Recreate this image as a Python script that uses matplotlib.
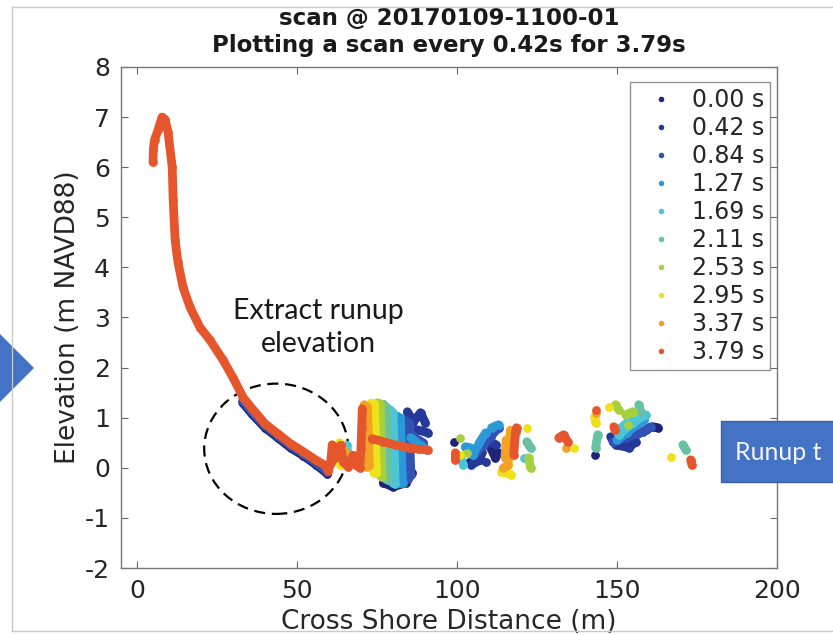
import numpy as np
import matplotlib.pyplot as plt
from matplotlib.lines import Line2D
from matplotlib.patches import Ellipse, Polygon, Rectangle

plt.rcParams["font.family"] = ["DejaVu Sans"]
plt.rcParams["axes.unicode_minus"] = False

nan = np.nan

labels = ["0.00 s", "0.42 s", "0.84 s", "1.27 s", "1.69 s",
          "2.11 s", "2.53 s", "2.95 s", "3.37 s", "3.79 s"]
colors = ["#1f237a", "#25399a", "#3352b6", "#2b98d8", "#4cc6d6",
          "#66c2a2", "#a7d03e", "#eee31a", "#f4a226", "#e6562c"]

# wet beach under the last scan (earlier scans sit a bit lower)
low_beach_x = [33.0, 36.0, 40.0, 44.0, 48.0, 52.0, 56.0, 59.5]
low_beach_z = [1.30, 1.07, 0.80, 0.60, 0.40, 0.24, 0.06, -0.12]

# scan points, nan breaks a scan into separate pieces
x0 = [77.0, 80.0, 84.0, 86.0, nan, 99.0, nan, 103.6, nan, 110.5, 112.0, 113.0, nan,
      143.0, nan, 159.5, 161.2, 162.8]
z0 = [-0.30, -0.38, -0.30, -0.10, nan, 0.52, nan, 0.12, nan, 0.40, 0.20, 0.30, nan,
      0.26, nan, 0.78, 0.82, 0.80]

x1 = [84.5, 86.4, 88.6, 90.1, nan, 87.6, 90.8, nan, 104.5, 107.4, 107.7, nan, 109.2, nan,
      110.2, 112.2, nan, 148.0, 149.6, 153.7, 155.9, nan, 151.0, 155.0, 159.0]
z1 = [1.12, 0.92, 1.10, 0.90, nan, 0.76, 0.70, nan, 0.06, 0.16, 0.32, nan, 0.12, nan,
      0.52, 0.46, nan, 0.62, 0.46, 0.40, 0.52, nan, 0.50, 0.62, 0.75]

x2 = [83.5, 84.0, 84.6, 85.6, 85.3, 85.0, nan, 86.0, 88.0, 89.5, nan,
      106.0, 108.3, 110.5, 113.0, nan,
      148.7, 152.7, 158.0, 160.6, nan, 150.0, 153.0, 156.5]
z2 = [0.95, 0.40, -0.22, -0.15, 0.45, 0.90, nan, 0.65, 0.55, 0.50, nan,
      0.30, 0.46, 0.62, 0.80, nan,
      0.52, 0.60, 0.72, 0.82, nan, 0.70, 0.76, 0.90]

x3 = [81.3, 81.7, 82.2, 83.0, 82.6, 82.3, nan, 85.5, 88.6, 90.5, nan,
      102.6, 104.2, nan, 105.0, 107.0, 109.0, nan, 110.8, 113.0, nan,
      150.0, 153.0, 156.0, 158.5]
z3 = [1.03, 0.40, -0.30, -0.30, 0.40, 1.00, nan, 0.60, 0.45, 0.35, nan,
      0.42, 0.40, nan, 0.25, 0.50, 0.70, nan, 0.80, 0.86, nan,
      0.55, 0.70, 0.85, 0.95]

x4 = [65.6, 66.0, nan, 79.1, 79.4, 79.9, 80.7, 80.3, 80.0, nan, 101.4, 102.0, nan,
      120.8, nan, 150.5, 155.0, 159.0, nan, 151.0, 154.0]
z4 = [0.45, 0.20, nan, 1.16, 0.50, -0.30, -0.32, 0.50, 1.10, nan, 0.16, 0.06, nan,
      0.20, nan, 0.66, 0.90, 1.06, nan, 0.78, 0.95]

x5 = [77.0, 77.3, 77.8, 78.5, 78.2, 77.9, nan, 121.8, 123.0, nan, 144.0, 143.3, nan,
      156.8, 157.4, nan, 170.6, 171.5]
z5 = [1.27, 0.60, -0.22, -0.25, 0.60, 1.22, nan, 0.52, 0.40, nan, 0.66, 0.40, nan,
      1.26, 1.12, nan, 0.46, 0.36]

x6 = [75.2, 75.5, 75.9, 76.6, 76.3, 76.0, nan, 103.0, nan, 101.0, nan, 122.4, 123.0, nan,
      149.6, 150.5, nan, 152.7, 154.9, nan, 153.4]
z6 = [1.30, 0.60, -0.15, -0.18, 0.60, 1.28, nan, 0.30, nan, 0.60, nan, 0.20, 0.00, nan,
      1.26, 1.16, nan, 1.06, 1.12, nan, 0.86]

x7 = [63.3, 63.6, nan, 73.2, 73.6, 74.0, 74.8, 74.5, 74.2, nan, 101.0, nan,
      113.9, 117.0, nan, 121.8, nan, 136.5, nan, 143.0, 143.3, nan, 147.4, nan, 166.8]
z7 = [0.50, 0.05, nan, 1.29, 0.60, -0.10, -0.10, 0.60, 1.28, nan, 0.26, nan,
      -0.08, -0.14, nan, 0.80, nan, 0.40, nan, 1.02, 0.90, nan, 1.22, nan, 0.22]

x8 = [64.8, 65.5, 66.5, nan, 71.0, 71.4, 71.8, 72.6, 72.3, 72.0, nan,
      116.7, 116.2, 116.0, 114.5, nan, 115.0, 115.3, nan, 134.0, nan, 143.3]
z8 = [0.35, 0.10, 0.25, nan, 1.26, 0.60, 0.02, 0.05, 0.70, 1.22, nan,
      0.75, 0.40, 0.05, 0.00, nan, 0.20, 0.55, nan, 0.40, nan, 1.10]

x9 = [5.0, 5.1, 5.5, 6.6, 7.8, 8.8, 9.7, 11.0, 11.3, 11.9, 12.8, 14.4, 16.6, 19.7, 22.8,
      26.9, 30.0, 33.2, 36.0, 40.0, 44.0, 48.0, 52.0, 56.0, 58.5, 59.8, 60.5, 61.0, 61.8,
      62.8, 63.6, 64.5, 66.0, 67.5, 68.5, 69.6, 70.0, 70.2, 70.4, nan,
      73.5, 77.0, 81.0, 85.0, 88.0, 90.8, nan, 99.5, 99.5, nan, 118.6, 118.3, 117.7, nan,
      131.8, 133.3, 134.6, nan, 143.3, nan, 149.0, 149.3, nan, 173.0, 173.4]
z9 = [6.10, 6.35, 6.55, 6.75, 7.00, 6.95, 6.70, 6.00, 5.35, 4.55, 4.10, 3.60, 3.20, 2.80, 2.55,
      2.15, 1.80, 1.40, 1.18, 0.88, 0.68, 0.48, 0.32, 0.15, 0.06, -0.06, 0.10, 0.46, 0.20,
      0.40, 0.45, 0.12, 0.02, 0.25, 0.05, 0.00, 0.40, 0.80, 1.18, nan,
      0.58, 0.52, 0.45, 0.40, 0.37, 0.36, nan, 0.30, 0.16, nan, 0.80, 0.72, 0.26, nan,
      0.60, 0.66, 0.52, nan, 1.16, nan, 0.82, 0.76, nan, 0.16, 0.06]

scan_x = [x0, x1, x2, x3, x4, x5, x6, x7, x8, x9]
scan_z = [z0, z1, z2, z3, z4, z5, z6, z7, z8, z9]

W, H = 833, 635
fig = plt.figure(figsize=(W / 100, H / 100), dpi=100)
fig.patch.set_facecolor("white")


def fx(px):
    return px / W


def fy(py):
    return 1 - py / H


ax = fig.add_axes([fx(121), fy(568), fx(777) - fx(121), fy(67) - fy(568)])

dot = dict(lw=6.3, marker="o", ms=6.3, mew=0, solid_capstyle="round",
           solid_joinstyle="round")
ax.plot(low_beach_x, low_beach_z, color=colors[0], **dot)
ax.plot(low_beach_x, [z + 0.04 for z in low_beach_z], color=colors[2], **dot)
for xs, zs, c in zip(scan_x, scan_z, colors):
    ax.plot(xs, zs, color=c, **dot)

ax.set_xlim(-5, 200)
ax.set_ylim(-2, 8)
ax.set_xticks([0, 50, 100, 150, 200])
ax.set_yticks(range(-2, 9))
ax.tick_params(direction="in", length=5, width=0.8, top=True, right=True,
               labelsize=18, pad=8, color="#666666", labelcolor="#262626")
for s in ax.spines.values():
    s.set_color("#777777")
    s.set_linewidth(1.0)

ax.set_xlabel("Cross Shore Distance (m)", fontsize=19, color="#262626", labelpad=4)
ax.set_ylabel("Elevation (m NAVD88)", fontsize=19, color="#262626", labelpad=3)
ax.set_title("scan @ 20170109-1100-01\nPlotting a scan every 0.42s for 3.79s",
             fontsize=16.5, fontweight="bold", color="#1a1a1a", pad=11, linespacing=1.22)

handles = [Line2D([], [], ls="none", marker="o", ms=4, mew=0, color=c) for c in colors]
leg = ax.legend(handles, labels, loc="upper right", bbox_to_anchor=(fx(770), fy(82)),
                bbox_transform=fig.transFigure, borderaxespad=0, fontsize=17,
                frameon=True, fancybox=False, handlelength=2.15, handletextpad=0.2,
                labelspacing=0.17, borderpad=0.25)
leg.get_frame().set_edgecolor("#777777")
leg.get_frame().set_linewidth(1.0)
for t in leg.get_texts():
    t.set_color("#262626")

# dashed ring around the swash zone and its note
ax.add_patch(Ellipse((43.5, 0.38), 45, 2.6, fill=False, ec="black", lw=1.6,
                     ls=(0, (5, 3)), clip_on=False))
ax.text(56.6, 2.8, "Extract runup\nelevation", ha="center", va="center",
        fontsize=20.5, family="Lato", color="#1a1a1a", linespacing=1.35)

# slide frame, arrow and box around the plot
frame = dict(color="#c8c8c8", lw=1.0, transform=fig.transFigure)
fig.add_artist(Line2D([fx(12), fx(12)], [fy(7), fy(631)], **frame))
fig.add_artist(Line2D([fx(12), fx(833)], [fy(7), fy(7)], **frame))
fig.add_artist(Line2D([fx(12), fx(833)], [fy(631), fy(631)], **frame))

fig.add_artist(Polygon([(fx(0), fy(334)), (fx(34), fy(368)), (fx(0), fy(402))],
                       closed=True, fc="#4472c4", ec="none", transform=fig.transFigure))
fig.add_artist(Rectangle((fx(721), fy(482)), fx(120), fy(421) - fy(482),
                         fc="#4472c4", ec="#3a62a8", lw=1.0, transform=fig.transFigure))
fig.text(fx(735), fy(452), "Runup t", fontsize=18, family="Lato", color="#f4f4f4",
         ha="left", va="center")

fig.savefig("out.png", dpi=100)
